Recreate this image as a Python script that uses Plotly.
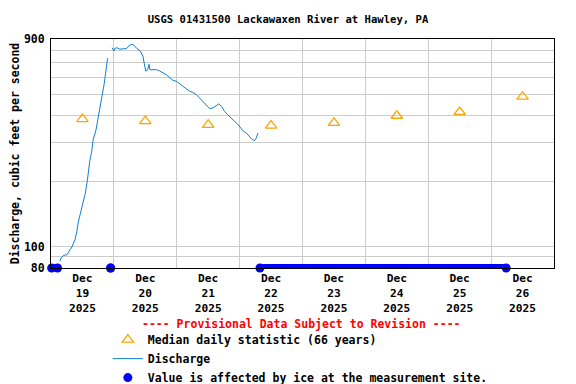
import math
import plotly.graph_objects as go

# ---------------- data ----------------
discharge_time = [
    "2025-12-19 03:25", "2025-12-19 03:50", "2025-12-19 04:55", "2025-12-19 06:05",
    "2025-12-19 07:15", "2025-12-19 08:00", "2025-12-19 09:10", "2025-12-19 09:50",
    "2025-12-19 10:25", "2025-12-19 11:25", "2025-12-19 12:20", "2025-12-19 13:05",
    "2025-12-19 13:50", "2025-12-19 14:20", "2025-12-19 14:50", "2025-12-19 15:30",
    "2025-12-19 16:05", "2025-12-19 17:10", "2025-12-19 18:00", "2025-12-19 18:55",
    "2025-12-19 19:40", "2025-12-19 20:20", "2025-12-19 20:50", "2025-12-19 21:35",
    "2025-12-19 22:30",
    "2025-12-19 23:20", "2025-12-20 00:00", "2025-12-20 00:20", "2025-12-20 01:10",
    "2025-12-20 02:15", "2025-12-20 03:25", "2025-12-20 04:50", "2025-12-20 06:05",
    "2025-12-20 06:50", "2025-12-20 07:35", "2025-12-20 08:45", "2025-12-20 09:55",
    "2025-12-20 11:05", "2025-12-20 11:25", "2025-12-20 11:55", "2025-12-20 12:10",
    "2025-12-20 12:50", "2025-12-20 13:25", "2025-12-20 13:45", "2025-12-20 14:50",
    "2025-12-20 16:15", "2025-12-20 17:30", "2025-12-20 18:40", "2025-12-20 20:10",
    "2025-12-20 21:20", "2025-12-20 22:30", "2025-12-20 23:55", "2025-12-21 01:10",
    "2025-12-21 02:15", "2025-12-21 03:35", "2025-12-21 04:55", "2025-12-21 06:05",
    "2025-12-21 07:30", "2025-12-21 08:45", "2025-12-21 09:55", "2025-12-21 11:25",
    "2025-12-21 12:35", "2025-12-21 13:45", "2025-12-21 14:50", "2025-12-21 16:00",
    "2025-12-21 17:10", "2025-12-21 18:15", "2025-12-21 19:25", "2025-12-21 20:35",
    "2025-12-21 22:05", "2025-12-21 23:15", "2025-12-22 00:25", "2025-12-22 01:30",
    "2025-12-22 02:35", "2025-12-22 03:50", "2025-12-22 04:55", "2025-12-22 05:45",
    "2025-12-22 06:20", "2025-12-22 07:00",
]
discharge_cfs = [
    86, 89, 91.5, 92, 97, 100, 108, 117, 130, 145, 159, 176,
    200, 225, 250, 272, 310, 344, 389, 440, 498, 563, 626, 734,
    None,
    821, 793, 814, 821, 808, 808, 814, 845, 850, 845, 814, 797,
    752, 713, 665, 642, 650, 689, 650, 650, 651, 642, 631, 615,
    598, 582, 575, 560, 545, 530, 518, 512, 500, 482, 466, 449,
    431, 434, 445, 453, 441, 418, 404, 390, 377, 366, 351, 339,
    333, 321, 310, 308, 316, 333,
]

median_date = ["2025-12-19 12:00", "2025-12-20 12:00", "2025-12-21 12:00", "2025-12-22 12:00",
               "2025-12-23 12:00", "2025-12-24 12:00", "2025-12-25 12:00", "2025-12-26 12:00"]
median_cfs = [386, 378, 363, 360, 371, 400, 416, 489]

# ice-affected periods (start/end of each run), plotted on the axis floor
ice_time = ["2025-12-19 00:15", "2025-12-19 02:30", None,
            "2025-12-19 22:45", "2025-12-19 22:45", None,
            "2025-12-22 07:45", "2025-12-26 05:45"]
ice_level = [80, 80, None, 80, 80, None, 80, 80]

y_tickvals = [80, 90, 100, 200, 300, 400, 500, 600, 700, 800, 900]
y_ticktext = ["80", "", "100", "", "", "", "", "", "", "", "900"]

x_range = ["2025-12-19 00:00", "2025-12-27 00:00"]
y_min, y_max = 80, 900

FONT = "DejaVu Sans Mono"

fig = go.Figure()

fig.add_trace(go.Scatter(
    x=discharge_time, y=discharge_cfs, mode="lines", name="Discharge",
    line=dict(color="#1080d0", width=1), connectgaps=False, legendrank=2,
))
fig.add_trace(go.Scatter(
    x=median_date, y=median_cfs, mode="markers", name="Median daily statistic (66 years)",
    marker=dict(symbol="triangle-up-open", size=10, color="#ffa500",
                line=dict(color="#ffa500", width=1.3)),
    legendrank=1,
))
fig.add_trace(go.Scatter(
    x=ice_time, y=ice_level, mode="lines", showlegend=False,
    line=dict(color="#0000ff", width=8), cliponaxis=False, connectgaps=False,
))
fig.add_trace(go.Scatter(
    x=ice_time, y=ice_level, mode="markers",
    name="Value is affected by ice at the measurement site.",
    marker=dict(symbol="circle", size=9, color="#0000ff"), cliponaxis=False,
    legendrank=3,
))

# The page body has an 8px margin, so the figure is sized/offset to compensate.
fig.update_layout(
    width=568, height=376,
    margin=dict(l=43, r=22, t=31, b=116, autoexpand=False),
    paper_bgcolor="white", plot_bgcolor="white",
    font=dict(family=FONT, size=11.5, color="black", weight="bold"),
    title=dict(text="USGS 01431500 Lackawaxen River at Hawley, PA",
               x=(288 - 8 - 43) / 503, xanchor="center", y=1 - 11 / 376, yanchor="middle",
               xref="paper", yref="container",
               font=dict(family=FONT, size=10.6, color="black", weight="bold")),
    showlegend=True,
    legend=dict(x=0.113, xanchor="left", y=-0.2494, yanchor="top",
                bgcolor="rgba(0,0,0,0)", tracegroupgap=0,
                font=dict(family=FONT, size=11.5, color="black", weight="bold")),
    annotations=[dict(
        text="---- Provisional Data Subject to Revision ----",
        xref="paper", yref="paper", x=0.498, y=-0.2445,
        xanchor="center", yanchor="middle", showarrow=False,
        font=dict(family=FONT, size=11.5, color="#ff0000", weight="bold"),
    )],
)

fig.update_xaxes(
    type="date", range=x_range, automargin=False,
    tick0="2025-12-19", dtick=86400000, ticklabelmode="period",
    tickformat="%b<br>%d<br>%Y", tickfont=dict(size=11.2),
    showgrid=True, gridcolor="#cccccc", gridwidth=1,
    showline=True, linecolor="black", linewidth=1, mirror=True,
    ticks="", zeroline=False,
)
fig.update_yaxes(
    type="log", range=[math.log10(y_min) - 1e-6, math.log10(y_max)], automargin=False,
    tickmode="array", tickvals=y_tickvals, ticktext=y_ticktext,
    ticklabelstandoff=3,
    showgrid=True, gridcolor="#cccccc", gridwidth=1,
    showline=True, linecolor="black", linewidth=1, mirror=True,
    ticks="", zeroline=False,
    title=dict(text="Discharge, cubic feet per second", standoff=10,
               font=dict(family=FONT, size=11.5, weight="bold")),
)

fig.write_html("out.html")
